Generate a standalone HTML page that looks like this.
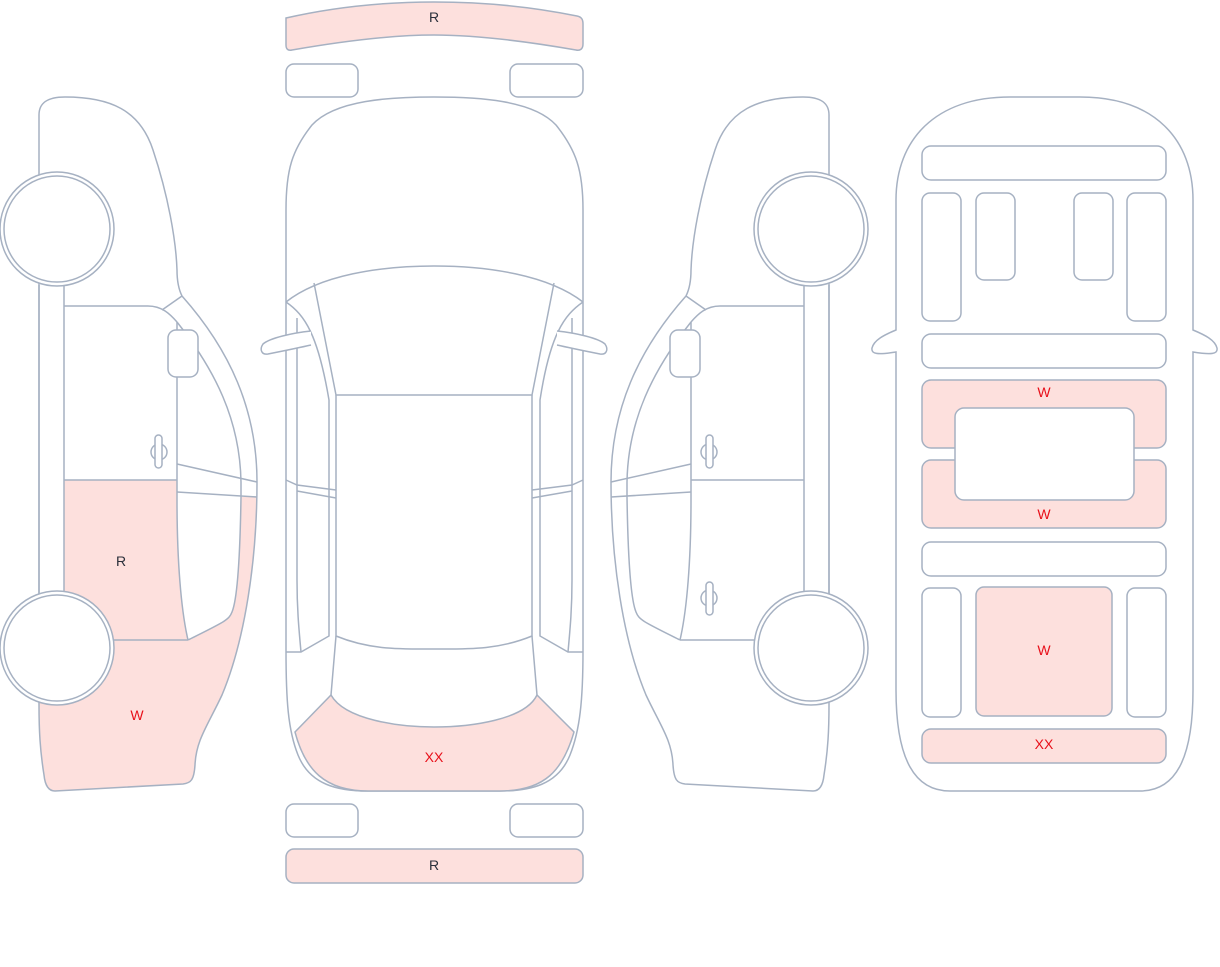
<!DOCTYPE html>
<html><head><meta charset="utf-8"><style>
html,body{margin:0;padding:0;background:#fff;width:1220px;height:967px;overflow:hidden}
svg{display:block}
text{font-family:"Liberation Sans",sans-serif;font-size:14px;text-anchor:middle}
.d{fill:#2a2f3a}.r{fill:#e8101a}
</style></head><body>
<svg width="1220" height="967" viewBox="0 0 1220 967" xmlns="http://www.w3.org/2000/svg">
<defs>
<g id="side" fill="none" stroke="#a6b1c2" stroke-width="1.5">
 <path d="M39,115 C39,103 47,97 65,97 C110,97 140,110 153,150 C168,195 176,240 177,270 C177,285 180,292 182,296 C230,350 257,410 257,482 C257,560 245,640 222,695 C208,725 196,740 195,765 C194,780 191,783 183,784 L55,791 C48,791 45,785 44,775 C40,750 39,730 39,705 Z"/>
 <path d="M162,310 L182,296"/>
 <path d="M64,306 L148,306 C162,306 170,314 177,322"/>
 <path d="M177,322 C215,370 240,420 241,482 L241,497 C240,560 237,600 232,612 C229,620 224,622 188,640"/>
 <path d="M177,322 L177,500 C177,560 181,610 188,640"/>
 <path d="M177,464 L257,482 M177,492 L257,497"/>
 <path d="M64,285 L64,595 M39,285 L39,595"/>
 <path d="M112,640 L188,640"/>
 <path d="M64,480 L177,480"/>
 <rect x="168" y="330" width="30" height="47" rx="8" fill="#fff"/>
 <circle cx="57" cy="229" r="57" fill="#fff"/><circle cx="57" cy="229" r="53"/>
 <circle cx="57" cy="648" r="57" fill="#fff"/><circle cx="57" cy="648" r="53"/>
 <ellipse cx="159" cy="452" rx="8" ry="8"/><rect x="155" y="435" width="7" height="33" rx="3.5" fill="#fff"/>
</g>
</defs>

<!-- left side with pink -->
<path d="M64,480 L177,480 L177,500 C177,560 181,610 188,640 L112,640 L100,620 L64,595 Z" fill="#fde0dd"/>
<path d="M188,640 C224,622 229,620 232,612 C237,600 240,560 241,497 L257,497 C257,560 245,640 222,695 C208,725 196,740 195,765 C194,780 191,783 183,784 L55,791 C48,791 45,785 44,775 C40,750 39,730 39,705 L39,640 L112,640 Z" fill="#fde0dd"/>
<use href="#side"/>
<text x="121" y="566" class="d">R</text>
<text x="137" y="720" class="r">W</text>

<!-- right side mirrored -->
<g transform="translate(868,0) scale(-1,1)"><use href="#side"/>
<g fill="none" stroke="#a6b1c2" stroke-width="1.5"><ellipse cx="159" cy="598" rx="8" ry="8"/><rect x="155" y="582" width="7" height="33" rx="3.5" fill="#fff"/></g></g>

<!-- middle top view -->
<g fill="none" stroke="#a6b1c2" stroke-width="1.5">
 <path d="M286,18 C330,8 380,2 434,2 C488,2 538,8 577,16 C582,17 583,20 583,24 L583,44 C583,49 580,51 576,50 C530,42 480,35 434,35 C388,35 338,42 292,50 C288,51 286,49 286,45 Z" fill="#fde0dd"/>
 <rect x="286" y="64" width="72" height="33" rx="8"/><rect x="510" y="64" width="73" height="33" rx="8"/>
 <rect x="286" y="804" width="72" height="33" rx="8"/><rect x="510" y="804" width="73" height="33" rx="8"/>
 <rect x="286" y="849" width="297" height="34" rx="8" fill="#fde0dd"/>
 <path d="M286,210 C286,170 292,150 312,125 C335,100 390,97 434,97 C478,97 533,100 556,125 C576,150 583,170 583,210 L583,650 C583,700 580,730 570,755 C558,785 530,791 500,791 L368,791 C338,791 310,785 298,755 C288,730 286,700 286,650 Z" fill="#fff"/>
 <path d="M295,732 L331,695 C345,720 400,727 434,727 C470,727 525,720 537,695 L574,732 C563,770 545,791 500,791 L368,791 C325,791 305,770 295,732 Z" fill="#fde0dd"/>
 <path d="M286,302 C320,275 380,266 434,266 C488,266 548,275 583,302"/>
 <path d="M314,283 L336,395 L532,395 L554,283"/>
 <path d="M336,395 L336,636 C370,650 400,649 434,649 C468,649 498,650 532,636 L532,395"/>
 <path d="M286,302 C305,315 318,335 329,400 L329,636 L301,652 L286,652"/>
 <path d="M583,302 C564,315 550,335 540,400 L540,636 L568,652 L583,652"/>
 <path d="M297,318 L297,580 C297,610 299,630 301,652"/>
 <path d="M572,318 L572,580 C572,610 570,630 568,652"/>
 <path d="M286,480 L297,485 L336,490 M297,491 L336,498"/>
 <path d="M583,480 L572,485 L532,490 M572,491 L532,498"/>
 <path d="M336,636 L331,695 M532,636 L537,695"/>
 <path d="M311,331 C292,333 270,338 263,344 C259,350 262,355 268,354 C283,351 298,348 311,345" fill="#fff"/>
 <path d="M557,331 C576,333 598,338 605,344 C609,350 606,355 600,354 C585,351 570,348 557,345" fill="#fff"/>
</g>
<text x="434" y="22" class="d">R</text>
<text x="434" y="870" class="d">R</text>
<text x="434" y="762" class="r">XX</text>

<!-- right-most -->
<g fill="none" stroke="#a6b1c2" stroke-width="1.5">
 <path d="M896,200 C896,140 935,97 1010,97 L1080,97 C1155,97 1193,140 1193,200 L1193,330 C1205,335 1215,340 1217,348 C1218,354 1212,355 1193,352 L1193,690 C1193,760 1175,791 1140,791 L950,791 C915,791 896,760 896,690 L896,352 C877,355 871,354 872,348 C874,340 884,335 896,330 Z" fill="#fff"/>
 <rect x="922" y="146" width="244" height="34" rx="9"/>
 <rect x="922" y="193" width="39" height="128" rx="8"/><rect x="976" y="193" width="39" height="87" rx="8"/>
 <rect x="1074" y="193" width="39" height="87" rx="8"/><rect x="1127" y="193" width="39" height="128" rx="8"/>
 <rect x="922" y="334" width="244" height="34" rx="9"/>
 <rect x="922" y="380" width="244" height="68" rx="9" fill="#fde0dd"/>
 <rect x="922" y="460" width="244" height="68" rx="9" fill="#fde0dd"/>
 <rect x="955" y="408" width="179" height="92" rx="9" fill="#fff"/>
 <rect x="922" y="542" width="244" height="34" rx="9"/>
 <rect x="922" y="588" width="39" height="129" rx="8"/><rect x="1127" y="588" width="39" height="129" rx="8"/>
 <rect x="976" y="587" width="136" height="129" rx="8" fill="#fde0dd"/>
 <rect x="922" y="729" width="244" height="34" rx="9" fill="#fde0dd"/>
</g>
<text x="1044" y="397" class="r">W</text>
<text x="1044" y="519" class="r">W</text>
<text x="1044" y="655" class="r">W</text>
<text x="1044" y="749" class="r">XX</text>
</svg>
</body></html>
